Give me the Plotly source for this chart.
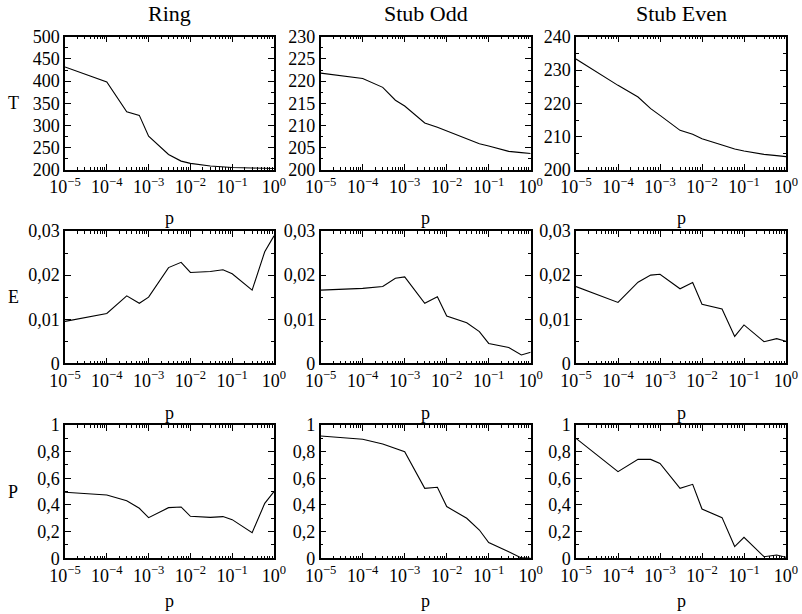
import plotly.graph_objects as go

p_values = [1e-5, 1e-4, 3e-4, 6e-4, 1e-3, 3e-3, 6e-3, 1e-2, 3e-2, 6e-2, 1e-1, 3e-1, 6e-1, 1.0]

ring_T = [432, 398, 331, 323, 276, 235, 220, 215, 209, 206.5, 205.5, 204.5, 204, 203.5]
stub_odd_T = [221.8, 220.6, 218.6, 215.7, 214.4, 210.6, 209.6, 208.8, 207.1, 205.9, 205.4, 204.2, 203.9, 203.7]
stub_even_T = [233.3, 225.4, 221.9, 218.4, 216.4, 211.9, 210.7, 209.4, 207.5, 206.3, 205.7, 204.7, 204.3, 204.0]

ring_E = [0.0095, 0.0113, 0.0153, 0.0136, 0.0150, 0.0217, 0.0229, 0.0206, 0.0208, 0.0212, 0.0203, 0.0166, 0.0253, 0.0289]
stub_odd_E = [0.0166, 0.0170, 0.0174, 0.0193, 0.0196, 0.0136, 0.0151, 0.0107, 0.0092, 0.0072, 0.0045, 0.0036, 0.0019, 0.0025]
stub_even_E = [0.0174, 0.0138, 0.0184, 0.0200, 0.0202, 0.0169, 0.0183, 0.0134, 0.0123, 0.0061, 0.0087, 0.0049, 0.0056, 0.0050]

ring_P = [0.495, 0.475, 0.432, 0.375, 0.305, 0.380, 0.385, 0.315, 0.307, 0.313, 0.290, 0.192, 0.412, 0.50]
stub_odd_P = [0.918, 0.893, 0.857, 0.825, 0.800, 0.525, 0.533, 0.388, 0.300, 0.212, 0.118, 0.050, 0.003, 0.0]
stub_even_P = [0.900, 0.650, 0.742, 0.742, 0.712, 0.525, 0.555, 0.370, 0.305, 0.088, 0.157, 0.012, 0.025, 0.008]

column_titles = ["Ring", "Stub Odd", "Stub Even"]
row_labels = ["T", "E", "P"]
x_tick_vals = [1e-5, 1e-4, 1e-3, 1e-2, 1e-1, 1.0]
x_tick_text = ["10<sup>−5</sup>", "10<sup>−4</sup>", "10<sup>−3</sup>",
               "10<sup>−2</sup>", "10<sup>−1</sup>", "10<sup>0</sup>"]

grid = [
    [ring_T, stub_odd_T, stub_even_T],
    [ring_E, stub_odd_E, stub_even_E],
    [ring_P, stub_odd_P, stub_even_P],
]
y_ranges = [
    [[200, 500], [200, 230], [200, 240]],
    [[0, 0.03], [0, 0.03], [0, 0.03]],
    [[0, 1], [0, 1], [0, 1]],
]
y_dticks = [
    [50, 5, 10],
    [0.01, 0.01, 0.01],
    [0.2, 0.2, 0.2],
]

W, H = 802, 614
col_px = [(65, 274), (320.7, 530.7), (576, 786)]
row_px = [(36.7, 170), (231, 363.3), (425, 558.3)]
p_label_offset = [48, 50, 43]

FONT = "Liberation Serif"
minor_x = [m * 10 ** k for k in range(-5, 0) for m in range(2, 10)]

fig = go.Figure()
layout = {}
annotations = []
for r in range(3):
    for c in range(3):
        idx = r * 3 + c + 1
        xname = "xaxis" if idx == 1 else f"xaxis{idx}"
        yname = "yaxis" if idx == 1 else f"yaxis{idx}"
        xref = "x" if idx == 1 else f"x{idx}"
        yref = "y" if idx == 1 else f"y{idx}"
        fig.add_trace(go.Scatter(
            x=p_values, y=grid[r][c], mode="lines",
            line=dict(color="black", width=1.1),
            xaxis=xref, yaxis=yref, showlegend=False, hoverinfo="skip"))
        x0, x1 = col_px[c]
        yt, yb = row_px[r]
        layout[xname] = dict(
            type="log", range=[-5, 0], domain=[x0 / W, x1 / W], automargin=False,
            anchor=yref, tickmode="array", tickvals=x_tick_vals, ticktext=x_tick_text,
            ticks="inside", ticklen=6, tickwidth=1, tickcolor="black",
            minor=dict(tickmode="array", tickvals=minor_x, ticks="inside", ticklen=3,
                       tickwidth=1, tickcolor="black", showgrid=False),
            showline=True, linecolor="black", linewidth=1.5, mirror="ticks",
            showgrid=False, zeroline=False,
            tickfont=dict(family=FONT, size=18, color="black"))
        dt = y_dticks[r][c]
        layout[yname] = dict(
            range=y_ranges[r][c], domain=[1 - yb / H, 1 - yt / H], automargin=False,
            anchor=xref, tickmode="linear", tick0=0, dtick=dt,
            ticks="inside", ticklen=6, tickwidth=1, tickcolor="black",
            minor=dict(dtick=dt / 2, ticks="inside", ticklen=3, tickwidth=1,
                       tickcolor="black", showgrid=False),
            showline=True, linecolor="black", linewidth=1.5, mirror="ticks",
            showgrid=False, zeroline=False,
            tickfont=dict(family=FONT, size=18, color="black"))
        annotations.append(dict(
            text="p", x=(x0 + x1) / 2 / W, y=1 - (yb + p_label_offset[r]) / H,
            xref="paper", yref="paper", showarrow=False,
            font=dict(family=FONT, size=18, color="black"),
            xanchor="center", yanchor="middle"))
    yt, yb = row_px[r]
    annotations.append(dict(
        text=row_labels[r], x=13 / W, y=1 - ((yt + yb) / 2) / H,
        xref="paper", yref="paper", showarrow=False,
        font=dict(family=FONT, size=18, color="black"),
        xanchor="center", yanchor="middle"))

for c in range(3):
    x0, x1 = col_px[c]
    annotations.append(dict(
        text=column_titles[c], x=(x0 + x1) / 2 / W, y=1 - 13 / H,
        xref="paper", yref="paper", showarrow=False,
        font=dict(family=FONT, size=22, color="black"),
        xanchor="center", yanchor="middle"))

fig.update_layout(
    width=W, height=H, margin=dict(l=0, r=0, t=0, b=0),
    paper_bgcolor="white", plot_bgcolor="white",
    separators=",.", annotations=annotations,
    font=dict(family=FONT, color="black"),
    **layout)

fig.write_html("out.html", config={"displayModeBar": False},
               post_script="document.body.style.margin='0px';")
